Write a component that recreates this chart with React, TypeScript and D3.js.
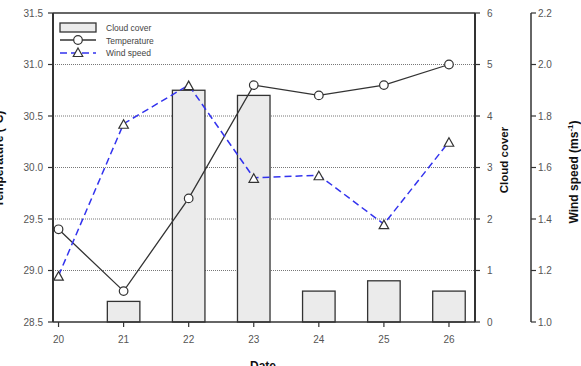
import React from "react";
import * as d3 from "d3";

const dates = [20, 21, 22, 23, 24, 25, 26];
const cloudCover = [0, 0.4, 4.5, 4.4, 0.6, 0.8, 0.6];
const temperature = [29.4, 28.8, 29.7, 30.8, 30.7, 30.8, 31.0];
const windSpeed = [1.18, 1.77, 1.92, 1.56, 1.57, 1.38, 1.7];
const tempTicks = [28.5, 29.0, 29.5, 30.0, 30.5, 31.0, 31.5];
const cloudTicks = [0, 1, 2, 3, 4, 5, 6];
const windTicks = [1.0, 1.2, 1.4, 1.6, 1.8, 2.0, 2.2];
const gridTicks = [29.0, 29.5, 30.0, 30.5, 31.0];

const FONT = "Liberation Sans, Arial, sans-serif";

export default function App() {
  const left = 53, right = 475, top = 13, bottom = 322;
  const axis3 = 531;
  const x = d3.scaleLinear().domain([19.915, 26.4]).range([left, right]);
  const yT = d3.scaleLinear().domain([28.5, 31.5]).range([bottom, top]);
  const yC = d3.scaleLinear().domain([0, 6]).range([bottom, top]);
  const yW = d3.scaleLinear().domain([1.0, 2.2]).range([bottom, top]);
  const barW = x(20.25) - x(20);

  const tLine = d3.line<number>().x((_, i) => x(dates[i])).y((d) => yT(d))(temperature) || "";
  const wLine = d3.line<number>().x((_, i) => x(dates[i])).y((d) => yW(d))(windSpeed) || "";

  const tri = (cx: number, cy: number, r = 5) =>
    `M${cx},${cy - r}L${cx + r * 0.95},${cy + r * 0.7}L${cx - r * 0.95},${cy + r * 0.7}Z`;

  const tickColor = "#555";
  const axisColor = "#333";

  return (
    <svg width={581} height={366} style={{ position: "absolute", left: 0, top: 0 }} fontFamily={FONT}>
      <rect width={581} height={366} fill="#fff" />
      {/* gridlines */}
      {gridTicks.map((t) => (
        <line key={t} x1={left} x2={right} y1={yT(t)} y2={yT(t)} stroke="#777" strokeWidth={1} strokeDasharray="1,1" />
      ))}
      {/* bars */}
      {cloudCover.map((c, i) =>
        c > 0 ? (
          <rect key={i} x={x(dates[i]) - barW} y={yC(c)} width={barW * 2} height={yC(0) - yC(c)}
            fill="#ebebeb" stroke="#333" strokeWidth={1.3} />
        ) : null
      )}
      {/* frame */}
      <line x1={left} x2={right} y1={top} y2={top} stroke={axisColor} strokeWidth={1.5} />
      <line x1={left} x2={right} y1={bottom} y2={bottom} stroke={axisColor} strokeWidth={1.5} />
      <line x1={left} x2={left} y1={top} y2={bottom} stroke={axisColor} strokeWidth={2} />
      <line x1={right} x2={right} y1={top} y2={bottom} stroke={axisColor} strokeWidth={2} />
      {/* left axis */}
      {tempTicks.map((t) => (
        <g key={t}>
          <line x1={left - 5} x2={left} y1={yT(t)} y2={yT(t)} stroke={axisColor} strokeWidth={1.2} />
          <text x={left - 10} y={yT(t)} dy="0.35em" textAnchor="end" fontSize={10} fill={tickColor}>
            {t.toFixed(1)}
          </text>
        </g>
      ))}
      {/* right axis cloud */}
      {cloudTicks.map((t) => (
        <g key={t}>
          <line x1={right} x2={right + 5} y1={yC(t)} y2={yC(t)} stroke={axisColor} strokeWidth={1.2} />
          <text x={right + 12} y={yC(t)} dy="0.35em" textAnchor="start" fontSize={10} fill={tickColor}>
            {t}
          </text>
        </g>
      ))}
      {/* third axis wind */}
      <line x1={axis3} x2={axis3} y1={top} y2={bottom} stroke={axisColor} strokeWidth={1.5} />
      {windTicks.map((t) => (
        <g key={t}>
          <line x1={axis3} x2={axis3 + 5} y1={yW(t)} y2={yW(t)} stroke={axisColor} strokeWidth={1.2} />
          <text x={axis3 + 7} y={yW(t)} dy="0.35em" textAnchor="start" fontSize={10} fill={tickColor}>
            {t.toFixed(1)}
          </text>
        </g>
      ))}
      {/* bottom axis */}
      {dates.map((d) => (
        <g key={d}>
          <line x1={x(d)} x2={x(d)} y1={bottom} y2={bottom + 5} stroke={axisColor} strokeWidth={1.2} />
          <text x={x(d)} y={343} textAnchor="middle" fontSize={10} fill={tickColor}>
            {d}
          </text>
        </g>
      ))}
      {/* lines */}
      <path d={tLine} fill="none" stroke="#333" strokeWidth={1.3} />
      <path d={wLine} fill="none" stroke="#3333ee" strokeWidth={1.5} strokeDasharray="7,4" />
      {temperature.map((t, i) => (
        <circle key={i} cx={x(dates[i])} cy={yT(t)} r={4.3} fill="#fff" stroke="#333" strokeWidth={1.2} />
      ))}
      {windSpeed.map((w, i) => (
        <path key={i} d={tri(x(dates[i]), yW(w) + 1)} fill="#fff" stroke="#333" strokeWidth={1.2} />
      ))}
      {/* legend */}
      <rect x={60} y={23} width={36} height={9} fill="#ebebeb" stroke="#333" strokeWidth={1.3} />
      <text x={106} y={31} fontSize={8.5} fill="#444">Cloud cover</text>
      <line x1={60} x2={96} y1={40} y2={40} stroke="#333" strokeWidth={1.3} />
      <circle cx={78} cy={40} r={4.3} fill="#fff" stroke="#333" strokeWidth={1.2} />
      <text x={106} y={43.5} fontSize={8.5} fill="#444">Temperature</text>
      <line x1={60} x2={96} y1={53} y2={53} stroke="#3333ee" strokeWidth={1.5} strokeDasharray="7,4" />
      <path d={tri(78, 53)} fill="#fff" stroke="#333" strokeWidth={1.2} />
      <text x={106} y={56} fontSize={8.5} fill="#444">Wind speed</text>
      {/* titles */}
      <text x={263} y={370} textAnchor="middle" fontSize={12} fontWeight="bold" fill="#111">Date</text>
      <text transform={`translate(3,159) rotate(-90)`} textAnchor="middle" fontSize={12} fontWeight="bold" fill="#111">
        Temperature (°C)
      </text>
      <text transform={`translate(508,160) rotate(-90)`} textAnchor="middle" fontSize={11.5} fontWeight="bold" fill="#111">
        Cloud cover
      </text>
      <text transform={`translate(578,172) rotate(-90)`} textAnchor="middle" fontSize={12} fontWeight="bold" fill="#111">
        Wind speed (ms<tspan fontSize={8} dy={-5}>-1</tspan><tspan dy={5}>)</tspan>
      </text>
    </svg>
  );
}
